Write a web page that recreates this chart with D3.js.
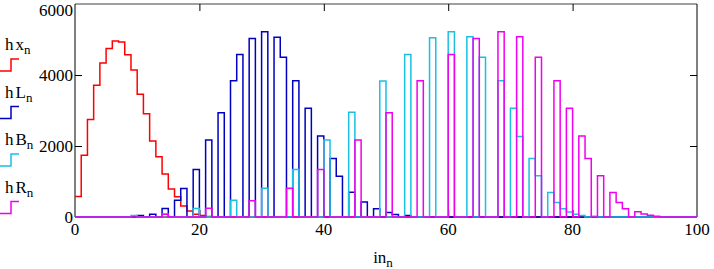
<!DOCTYPE html>
<html>
<head>
<meta charset="utf-8">
<script src="https://cdn.jsdelivr.net/npm/d3@7"></script>
<style>
  body { margin: 0; background: #fff; }
  svg { display: block; font-family: "Liberation Serif", "DejaVu Serif", serif; }
</style>
</head>
<body>
<div id="chart"></div>
<script>
// histogram counts per bin, bins 0..100
const hx = [
  580, 1740, 2750, 3710, 4340, 4750, 4960, 4930, 4570, 4140,
  3460, 2910, 2140, 1700, 1210, 790, 570, 310, 170, 80,
  40, 15, 0, 0, 0, 0, 0, 0, 0, 0,
  0, 0, 0, 0, 0, 0, 0, 0, 0, 0,
  0, 0, 0, 0, 0, 0, 0, 0, 0, 0,
  0, 0, 0, 0, 0, 0, 0, 0, 0, 0,
  0, 0, 0, 0, 0, 0, 0, 0, 0, 0,
  0, 0, 0, 0, 0, 0, 0, 0, 0, 0,
  0, 0, 0, 0, 0, 0, 0, 0, 0, 0,
  0, 0, 0, 0, 0, 0, 0, 0, 0, 0,
  0
];
const hL = [
  0, 0, 0, 0, 0, 0, 0, 0, 0, 0,
  40, 0, 80, 0, 240, 0, 470, 800, 0, 1340,
  0, 2170, 0, 2940, 0, 3840, 4580, 0, 5030, 0,
  5220, 0, 5060, 4500, 0, 3840, 0, 3060, 0, 2280,
  0, 1650, 1150, 0, 700, 0, 420, 0, 230, 0,
  130, 70, 0, 40, 0, 0, 0, 0, 0, 0,
  0, 0, 0, 0, 0, 0, 0, 0, 0, 0,
  0, 0, 0, 0, 0, 0, 0, 0, 0, 0,
  0, 0, 0, 0, 0, 0, 0, 0, 0, 0,
  0, 0, 0, 0, 0, 0, 0, 0, 0, 0,
  0
];
const hB = [
  0, 0, 0, 0, 0, 0, 0, 0, 0, 40,
  0, 0, 0, 0, 80, 0, 0, 0, 0, 240,
  0, 0, 0, 0, 0, 470, 0, 0, 0, 0,
  810, 0, 0, 0, 0, 1340, 0, 0, 0, 0,
  2170, 0, 0, 0, 2950, 0, 0, 0, 0, 3830,
  0, 0, 0, 4580, 0, 0, 0, 5050, 0, 0,
  5220, 0, 0, 5080, 0, 4500, 0, 0, 3840, 0,
  3060, 2270, 0, 1650, 1160, 0, 690, 405, 230, 140,
  75, 40, 0, 20, 0, 0, 0, 0, 0, 0,
  0, 0, 0, 0, 0, 0, 0, 0, 0, 0,
  0
];
const hR = [
  0, 0, 0, 0, 0, 0, 0, 0, 0, 0,
  0, 0, 0, 0, 80, 0, 0, 0, 0, 0,
  0, 245, 0, 0, 0, 0, 0, 0, 460, 0,
  0, 0, 0, 0, 810, 0, 0, 0, 0, 1340,
  0, 0, 0, 0, 0, 2170, 0, 0, 0, 0,
  2940, 0, 0, 0, 0, 3840, 0, 0, 0, 0,
  4580, 0, 0, 0, 5030, 0, 0, 0, 5220, 0,
  0, 5080, 0, 0, 4500, 0, 0, 3840, 0, 3060,
  0, 2280, 1650, 0, 1165, 0, 690, 405, 235, 0,
  150, 85, 50, 20, 0, 0, 0, 0, 0, 0,
  0
];

const seriesNames = ["hx", "hL", "hB", "hR"];
const seriesColors = ["#ff0000", "#0000c0", "#19c0e4", "#f000f0"];
const xTicks = [0, 20, 40, 60, 80, 100];
const yTicks = [0, 2000, 4000, 6000];

const W = 714, H = 269;
const plot = { left: 75, right: 697, top: 4, bottom: 217 };

const svg = d3.select("#chart").append("svg")
    .attr("width", W)
    .attr("height", H);

const x = d3.scaleLinear().domain([0, 100]).range([plot.left, plot.right]);
const y = d3.scaleLinear().domain([0, 6000]).range([plot.bottom, plot.top]);

// frame
svg.append("line")
    .attr("x1", plot.left).attr("x2", plot.right)
    .attr("y1", plot.top).attr("y2", plot.top)
    .attr("stroke", "#808080").attr("stroke-width", 1.5);
svg.append("line")
    .attr("x1", plot.left).attr("x2", plot.right)
    .attr("y1", plot.bottom).attr("y2", plot.bottom)
    .attr("stroke", "#000");

// axes with inward ticks
const tickLen = 7;
svg.append("g")
    .attr("transform", `translate(${plot.left},0)`)
    .call(d3.axisRight(y).tickValues([2000, 4000]).tickSize(tickLen).tickFormat(""))
    .call(g => g.select(".domain").attr("d", `M0,${plot.top}V${plot.bottom}`));
svg.append("g")
    .attr("transform", `translate(${plot.right},0)`)
    .call(d3.axisLeft(y).tickValues([2000, 4000]).tickSize(tickLen).tickFormat(""))
    .call(g => g.select(".domain").attr("d", `M0,${plot.top}V${plot.bottom}`));
svg.append("g")
    .attr("transform", `translate(0,${plot.top})`)
    .call(d3.axisBottom(x).tickValues([20, 40, 60, 80]).tickSize(tickLen).tickFormat(""))
    .call(g => g.select(".domain").remove());
svg.append("g")
    .attr("transform", `translate(0,${plot.bottom})`)
    .call(d3.axisTop(x).tickValues([20, 40, 60, 80]).tickSize(tickLen).tickFormat(""))
    .call(g => g.select(".domain").remove());

// tick labels (top one nudged down so it stays inside the page)
svg.append("g").selectAll("text")
    .data(yTicks)
    .join("text")
    .attr("x", plot.left - 2)
    .attr("y", d => Math.max(y(d) + 6, 16))
    .attr("text-anchor", "end")
    .attr("font-size", 17)
    .text(d => d);

svg.append("g").selectAll("text")
    .data(xTicks)
    .join("text")
    .attr("x", d => x(d))
    .attr("y", 235)
    .attr("text-anchor", "middle")
    .attr("font-size", 17)
    .text(d => d);

// axis title
const xt = svg.append("text")
    .attr("x", 383)
    .attr("y", 263)
    .attr("text-anchor", "middle")
    .attr("font-size", 17);
xt.append("tspan").text("in");
xt.append("tspan").attr("dy", 4).attr("font-size", 13).text("n");

// step traces
const stepLine = d3.line()
    .x((d, i) => x(i))
    .y(d => y(d))
    .curve(d3.curveStepAfter);

const allSeries = [hx, hL, hB, hR];
svg.append("g").selectAll("path")
    .data(allSeries)
    .join("path")
    .attr("fill", "none")
    .attr("stroke", (d, i) => seriesColors[i])
    .attr("stroke-width", 1.5)
    .attr("d", d => stepLine(d));

// legend
const legend = svg.append("g").selectAll("g")
    .data(seriesNames)
    .join("g")
    .attr("transform", (d, i) => `translate(0,${50 + i * 47.5})`);

legend.append("text")
    .attr("x", 5)
    .attr("y", 0)
    .attr("font-size", 17)
    .each(function(d) {
        const t = d3.select(this);
        t.append("tspan").text(d[0]);
        t.append("tspan").attr("dx", 2).text(d.slice(1));
        t.append("tspan").attr("dy", 4).attr("font-size", 13).text("n");
    });

legend.append("path")
    .attr("fill", "none")
    .attr("stroke", (d, i) => seriesColors[i])
    .attr("stroke-width", 1.5)
    .attr("d", "M0,21H11V9H19");
</script>
</body>
</html>
